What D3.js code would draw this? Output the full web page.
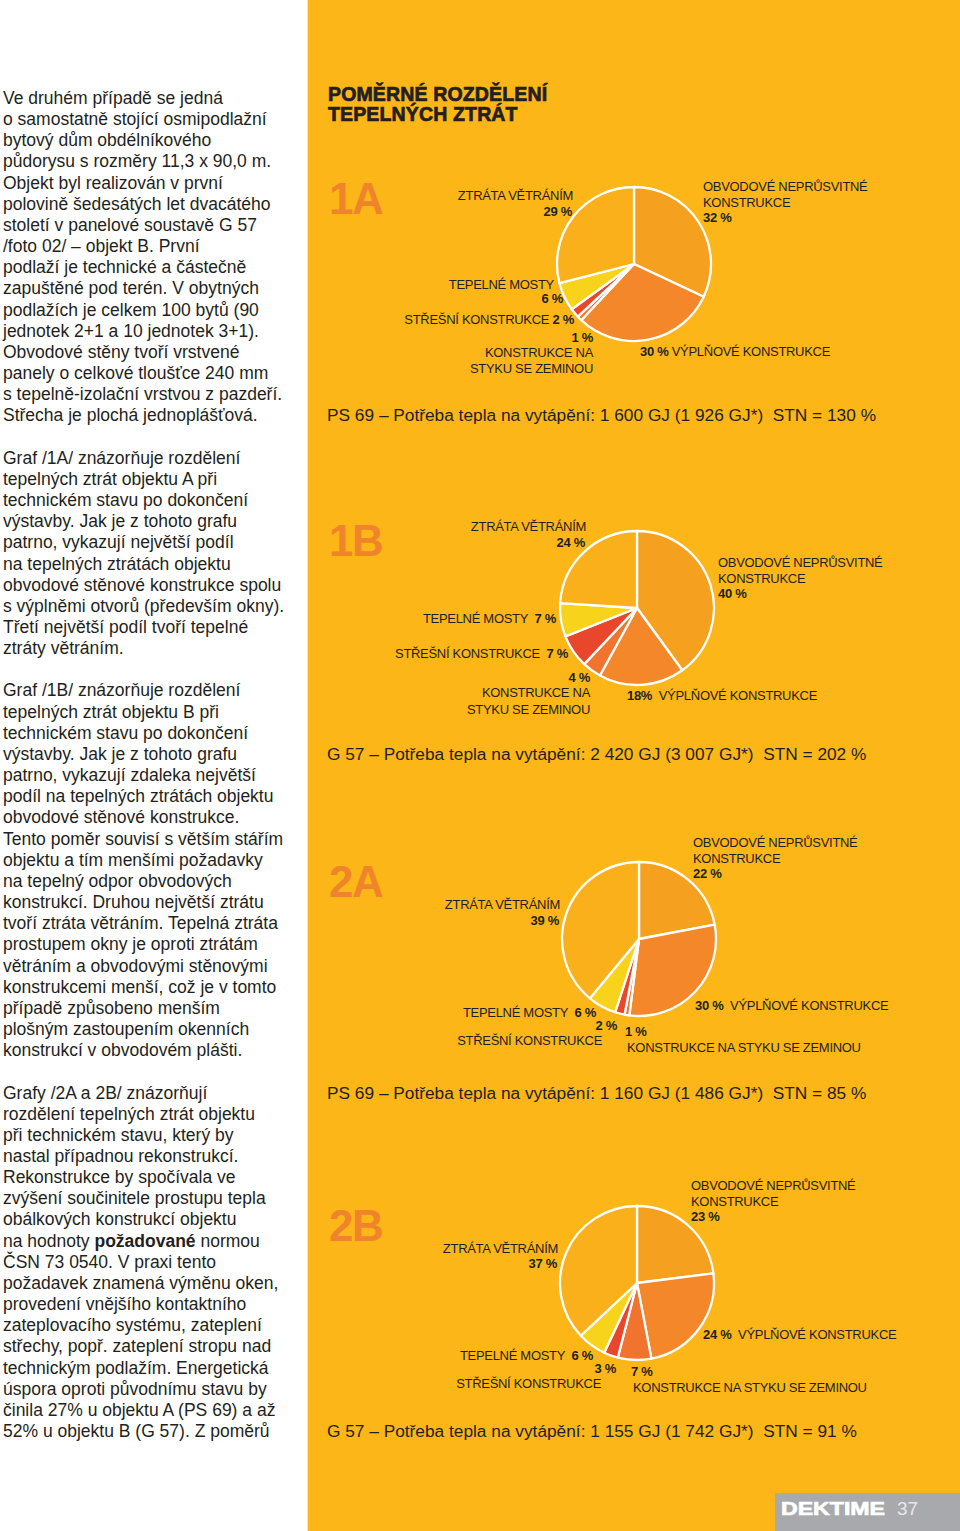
<!DOCTYPE html>
<html><head><meta charset="utf-8">
<script src="https://cdn.jsdelivr.net/npm/d3@7"></script>
<style>
html,body{margin:0;padding:0;background:#fff;}
svg{display:block;}
text{font-family:"Liberation Sans",Arial,Helvetica,sans-serif;}
</style></head>
<body>
<svg id="page" width="960" height="1531"></svg>
<script>
// ---------- DATA ----------
const categories = [
  "OBVODOVÉ NEPRŮSVITNÉ KONSTRUKCE",
  "VÝPLŇOVÉ KONSTRUKCE",
  "KONSTRUKCE NA STYKU SE ZEMINOU",
  "STŘEŠNÍ KONSTRUKCE",
  "TEPELNÉ MOSTY",
  "ZTRÁTA VĚTRÁNÍM"
];
const chartIds = ["1A", "1B", "2A", "2B"];
const values1A = [32, 30, 1, 2, 6, 29];
const values1B = [40, 18, 4, 7, 7, 24];
const values2A = [22, 30, 1, 2, 6, 39];
const values2B = [23, 24, 7, 3, 6, 37];
const footnotes = [
  "PS 69 – Potřeba tepla na vytápění: 1 600 GJ (1 926 GJ*)  STN = 130 %",
  "G 57 – Potřeba tepla na vytápění: 2 420 GJ (3 007 GJ*)  STN = 202 %",
  "PS 69 – Potřeba tepla na vytápění: 1 160 GJ (1 486 GJ*)  STN = 85 %",
  "G 57 – Potřeba tepla na vytápění: 1 155 GJ (1 742 GJ*)  STN = 91 %"
];
const titleLines = ["POMĚRNÉ ROZDĚLENÍ", "TEPELNÝCH ZTRÁT"];
const bodyLines = [
  "Ve druhém případě se jedná",
  "o samostatně stojící osmipodlažní",
  "bytový dům obdélníkového",
  "půdorysu s rozměry 11,3 x 90,0 m.",
  "Objekt byl realizován v první",
  "polovině šedesátých let dvacátého",
  "století v panelové soustavě G 57",
  "/foto 02/ – objekt B. První",
  "podlaží je technické a částečně",
  "zapuštěné pod terén. V obytných",
  "podlažích je celkem 100 bytů (90",
  "jednotek 2+1 a 10 jednotek 3+1).",
  "Obvodové stěny tvoří vrstvené",
  "panely o celkové tloušťce 240 mm",
  "s tepelně-izolační vrstvou z pazdeří.",
  "Střecha je plochá jednoplášťová.",
  "",
  "Graf /1A/ znázorňuje rozdělení",
  "tepelných ztrát objektu A při",
  "technickém stavu po dokončení",
  "výstavby. Jak je z tohoto grafu",
  "patrno, vykazují největší podíl",
  "na tepelných ztrátách objektu",
  "obvodové stěnové konstrukce spolu",
  "s výplněmi otvorů (především okny).",
  "Třetí největší podíl tvoří tepelné",
  "ztráty větráním.",
  "",
  "Graf /1B/ znázorňuje rozdělení",
  "tepelných ztrát objektu B při",
  "technickém stavu po dokončení",
  "výstavby. Jak je z tohoto grafu",
  "patrno, vykazují zdaleka největší",
  "podíl na tepelných ztrátách objektu",
  "obvodové stěnové konstrukce.",
  "Tento poměr souvisí s větším stářím",
  "objektu a tím menšími požadavky",
  "na tepelný odpor obvodových",
  "konstrukcí.  Druhou největší ztrátu",
  "tvoří ztráta větráním. Tepelná ztráta",
  "prostupem okny je oproti ztrátám",
  "větráním a obvodovými stěnovými",
  "konstrukcemi menší, což je v tomto",
  "případě způsobeno menším",
  "plošným zastoupením okenních",
  "konstrukcí v obvodovém plášti.",
  "",
  "Grafy /2A a 2B/ znázorňují",
  "rozdělení tepelných ztrát objektu",
  "při technickém stavu, který by",
  "nastal případnou rekonstrukcí.",
  "Rekonstrukce by spočívala ve",
  "zvýšení součinitele prostupu tepla",
  "obálkových konstrukcí objektu",
  "na hodnoty **požadované** normou",
  "ČSN 73 0540. V praxi tento",
  "požadavek znamená výměnu oken,",
  "provedení vnějšího kontaktního",
  "zateplovacího systému, zateplení",
  "střechy, popř. zateplení stropu nad",
  "technickým podlažím. Energetická",
  "úspora oproti původnímu stavu by",
  "činila 27% u objektu A (PS 69) a až",
  "52% u objektu B (G 57). Z poměrů"
];
const footerBrand = "DEKTIME";
const footerPage = "37";

// ---------- STYLE / LAYOUT ----------
const sliceColors = ["#F6A01F", "#F3872A", "#F0742E", "#E9472B", "#F8D31B", "#FAB01A"];
const bg = "#FCB617";
const ink = "#231F20";
const seriesValues = [values1A, values1B, values2A, values2B];

const layouts = [
  { cx: 634, cy: 264, r: 77, idY: 214, footY: 421,
    rows: [
      {x:573, y:199.5, a:"end", s:[["ZTRÁTA VĚTRÁNÍM"]]},
      {x:572, y:215.5, a:"end", s:[[{v:5}]]},
      {x:703, y:190.5, a:"start", s:[["OBVODOVÉ NEPRŮSVITNÉ"]]},
      {x:703, y:206.5, a:"start", s:[["KONSTRUKCE"]]},
      {x:703, y:221.5, a:"start", s:[[{v:0}]]},
      {x:554, y:288.5, a:"end", s:[["TEPELNÉ MOSTY"]]},
      {x:563, y:302.5, a:"end", s:[[{v:4}]]},
      {x:574, y:323.5, a:"end", s:[["STŘEŠNÍ KONSTRUKCE "],[{v:3}]]},
      {x:593, y:341.5, a:"end", s:[[{v:2}]]},
      {x:593, y:356.5, a:"end", s:[["KONSTRUKCE NA"]]},
      {x:593, y:372.5, a:"end", s:[["STYKU SE ZEMINOU"]]},
      {x:640, y:355.5, a:"start", s:[[{v:1}],[" VÝPLŇOVÉ KONSTRUKCE"]]}
    ]},
  { cx: 637, cy: 608, r: 77, idY: 556, footY: 760,
    rows: [
      {x:586, y:530.5, a:"end", s:[["ZTRÁTA VĚTRÁNÍM"]]},
      {x:585, y:546.5, a:"end", s:[[{v:5}]]},
      {x:718, y:566.5, a:"start", s:[["OBVODOVÉ NEPRŮSVITNÉ"]]},
      {x:718, y:582.5, a:"start", s:[["KONSTRUKCE"]]},
      {x:718, y:597.5, a:"start", s:[[{v:0}]]},
      {x:556, y:622.5, a:"end", s:[["TEPELNÉ MOSTY  "],[{v:4}]]},
      {x:568, y:657.5, a:"end", s:[["STŘEŠNÍ KONSTRUKCE  "],[{v:3}]]},
      {x:590, y:681.5, a:"end", s:[[{v:2}]]},
      {x:590, y:696.5, a:"end", s:[["KONSTRUKCE NA"]]},
      {x:590, y:713.5, a:"end", s:[["STYKU SE ZEMINOU"]]},
      {x:627, y:699.5, a:"start", s:[[{v:1, tight:true}],["  VÝPLŇOVÉ KONSTRUKCE"]]}
    ]},
  { cx: 639, cy: 939, r: 77, idY: 897, footY: 1099,
    rows: [
      {x:693, y:846.5, a:"start", s:[["OBVODOVÉ NEPRŮSVITNÉ"]]},
      {x:693, y:862.5, a:"start", s:[["KONSTRUKCE"]]},
      {x:693, y:877.5, a:"start", s:[[{v:0}]]},
      {x:560, y:908.5, a:"end", s:[["ZTRÁTA VĚTRÁNÍM"]]},
      {x:559, y:924.5, a:"end", s:[[{v:5}]]},
      {x:596, y:1016.5, a:"end", s:[["TEPELNÉ MOSTY  "],[{v:4}]]},
      {x:617, y:1029.5, a:"end", s:[[{v:3}]]},
      {x:602, y:1044.5, a:"end", s:[["STŘEŠNÍ KONSTRUKCE"]]},
      {x:625, y:1035.5, a:"start", s:[[{v:2}]]},
      {x:627, y:1051.5, a:"start", s:[["KONSTRUKCE NA STYKU SE ZEMINOU"]]},
      {x:695, y:1009.5, a:"start", s:[[{v:1}],["  VÝPLŇOVÉ KONSTRUKCE"]]}
    ]},
  { cx: 637, cy: 1283, r: 77, idY: 1241, footY: 1437,
    rows: [
      {x:691, y:1189.5, a:"start", s:[["OBVODOVÉ NEPRŮSVITNÉ"]]},
      {x:691, y:1205.5, a:"start", s:[["KONSTRUKCE"]]},
      {x:691, y:1220.5, a:"start", s:[[{v:0}]]},
      {x:558, y:1252.5, a:"end", s:[["ZTRÁTA VĚTRÁNÍM"]]},
      {x:557, y:1267.5, a:"end", s:[[{v:5}]]},
      {x:593, y:1359.5, a:"end", s:[["TEPELNÉ MOSTY  "],[{v:4}]]},
      {x:616, y:1372.5, a:"end", s:[[{v:3}]]},
      {x:601, y:1387.5, a:"end", s:[["STŘEŠNÍ KONSTRUKCE"]]},
      {x:631, y:1375.5, a:"start", s:[[{v:2}]]},
      {x:633, y:1391.5, a:"start", s:[["KONSTRUKCE NA STYKU SE ZEMINOU"]]},
      {x:703, y:1338.5, a:"start", s:[[{v:1}],["  VÝPLŇOVÉ KONSTRUKCE"]]}
    ]}
];

// ---------- DRAW ----------
const svg = d3.select("#page");
svg.append("rect").attr("x", 0).attr("y", 0).attr("width", 960).attr("height", 1531).attr("fill", "#fff");
svg.append("rect").attr("x", 308).attr("y", 0).attr("width", 652).attr("height", 1531).attr("fill", bg);
svg.append("rect").attr("x", 307).attr("y", 0).attr("width", 1).attr("height", 1531).attr("fill", "#FDE49A");

const bodyG = svg.append("g").attr("fill", ink).attr("font-size", 17.5);
const lh = 21.16;
bodyLines.forEach((line, i) => {
  if (!line) return;
  const t = bodyG.append("text").attr("x", 3).attr("y", 104 + i * lh);
  line.split(/(\*\*[^*]+\*\*)/).forEach(part => {
    if (!part) return;
    if (part.startsWith("**")) t.append("tspan").attr("font-weight", "bold").text(part.slice(2, -2));
    else t.append("tspan").text(part);
  });
});

titleLines.forEach((l, i) => {
  svg.append("text").attr("x", 328).attr("y", 101 + i * 20)
    .attr("font-size", 19.5).attr("font-weight", "bold").attr("fill", ink)
    .attr("stroke", ink).attr("stroke-width", 0.7).attr("letter-spacing", 0.15)
    .text(l);
});

const pie = d3.pie().sort(null).value(d => d);

layouts.forEach((L, ci) => {
  const vals = seriesValues[ci];
  const g = svg.append("g").attr("transform", `translate(${L.cx},${L.cy})`);
  const arc = d3.arc().innerRadius(0).outerRadius(L.r);
  g.selectAll("path").data(pie(vals)).join("path")
    .attr("d", arc)
    .attr("fill", (d, i) => sliceColors[i])
    .attr("stroke", "#fff").attr("stroke-width", 2.3).attr("stroke-linejoin", "round");

  svg.append("text").attr("x", 329).attr("y", L.idY)
    .attr("font-size", 44).attr("font-weight", "bold").attr("fill", "#F0842A")
    .attr("letter-spacing", -1.5).text(chartIds[ci]);

  L.rows.forEach(row => {
    const t = svg.append("text").attr("x", row.x).attr("y", row.y)
      .attr("text-anchor", row.a).attr("font-size", 13).attr("letter-spacing", -0.3).attr("fill", ink);
    row.s.forEach(([seg]) => {
      if (typeof seg === "object") {
        const v = vals[seg.v];
        t.append("tspan").attr("font-weight", "bold").text(seg.tight ? v + "%" : v + " %");
      } else {
        t.append("tspan").style("white-space", "pre").text(seg);
      }
    });
  });

  svg.append("text").attr("x", 327).attr("y", L.footY)
    .attr("font-size", 17.3).attr("fill", ink).style("white-space", "pre")
    .text(footnotes[ci]);
});

svg.append("rect").attr("x", 775).attr("y", 1493).attr("width", 185).attr("height", 38).attr("fill", "#A7A9AC");
svg.append("text").attr("x", 781).attr("y", 1515).attr("font-size", 19).attr("font-weight", "bold")
  .attr("fill", "#fff").attr("stroke", "#fff").attr("stroke-width", 0.7)
  .attr("textLength", 104).attr("lengthAdjust", "spacingAndGlyphs").text(footerBrand);
svg.append("text").attr("x", 897).attr("y", 1515).attr("font-size", 19).attr("fill", "#E8E8E8").text(footerPage);
</script>
</body></html>
